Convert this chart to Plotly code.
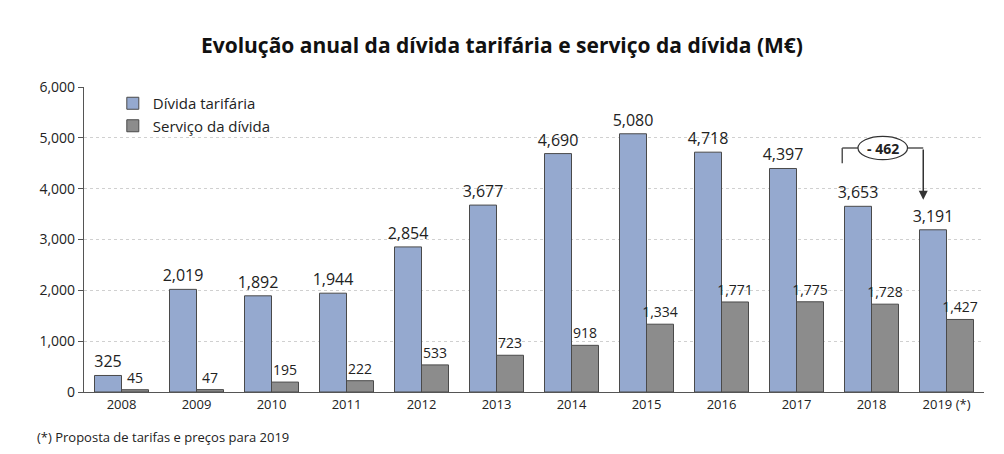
import plotly.graph_objects as go

years = ["2008", "2009", "2010", "2011", "2012", "2013", "2014", "2015", "2016", "2017", "2018", "2019 (*)"]
divida_tarifaria = [325, 2019, 1892, 1944, 2854, 3677, 4690, 5080, 4718, 4397, 3653, 3191]
servico_divida = [45, 47, 195, 222, 533, 723, 918, 1334, 1771, 1775, 1728, 1427]

BLUE = "#95A9CF"
GREY = "#8C8C8C"
EDGE = "#4A4A4A"
FONT = "Open Sans"

fig = go.Figure()
fig.add_trace(go.Bar(
    x=years, y=divida_tarifaria, name="Dívida tarifária",
    marker=dict(color=BLUE, line=dict(color=EDGE, width=1)),
    text=[f"{v:,}" for v in divida_tarifaria], textposition="outside", constraintext="none",
    textfont=dict(size=16, color="#222222", family=FONT), cliponaxis=False,
))
fig.add_trace(go.Bar(
    x=years, y=servico_divida, name="Serviço da dívida",
    marker=dict(color=GREY, line=dict(color=EDGE, width=1)),
    text=[f"{v:,}" for v in servico_divida], textposition="outside", constraintext="none",
    textfont=dict(size=14, color="#222222", family=FONT), cliponaxis=False,
))

# bracket showing the change 2018 -> 2019
i0, i1 = len(years) - 2, len(years) - 1
diff = divida_tarifaria[i1] - divida_tarifaria[i0]
x_left = i0 - 0.39
x_right = i1 - 0.31
x_mid = (x_left + x_right) / 2
y_top = 4800
oval_w, oval_h = 0.33, 230
line = dict(color="#555555", width=1.5)

fig.add_shape(type="line", xref="x", yref="y", x0=x_left, x1=x_left, y0=4500, y1=y_top, line=line)
fig.add_shape(type="line", xref="x", yref="y", x0=x_left, x1=x_mid - oval_w, y0=y_top, y1=y_top, line=line)
fig.add_shape(type="line", xref="x", yref="y", x0=x_mid + oval_w, x1=x_right, y0=y_top, y1=y_top, line=line)
fig.add_shape(type="circle", xref="x", yref="y",
              x0=x_mid - oval_w, x1=x_mid + oval_w, y0=y_top - oval_h, y1=y_top + oval_h,
              line=dict(color="#333333", width=1.2), fillcolor="white")
fig.add_annotation(x=x_mid, y=y_top, xref="x", yref="y", text=f"<b>- {abs(diff)}</b>",
                   showarrow=False, font=dict(size=14, color="#222222", family=FONT))
fig.add_annotation(x=x_right, y=3780, xref="x", yref="y", ax=x_right, ay=y_top,
                   axref="x", ayref="y", text="", showarrow=True,
                   arrowhead=2, arrowsize=1.2, arrowwidth=1.5, arrowcolor="#333333")

fig.add_annotation(x=-0.054, y=-0.148, xref="paper", yref="paper", xanchor="left", yanchor="middle",
                   text="(*) Proposta de tarifas e preços para 2019", showarrow=False,
                   font=dict(size=13, color="#222222", family=FONT))

fig.update_layout(
    width=1004, height=454,
    margin=dict(l=76, r=28, t=79, b=70),
    title=dict(text="<b>Evolução anual da dívida tarifária e serviço da dívida (M€)</b>",
               x=0.492, xanchor="center", y=0.918, yanchor="middle",
               font=dict(size=21, color="#111111", family=FONT)),
    font=dict(family=FONT, color="#222222"),
    plot_bgcolor="white", paper_bgcolor="white",
    barmode="group", bargap=0.28, bargroupgap=0,
    showlegend=True,
    legend=dict(x=0.032, y=1.0, xanchor="left", yanchor="top", bgcolor="rgba(0,0,0,0)",
                font=dict(size=15, family=FONT, color="#222222"), tracegroupgap=2),
)
fig.update_yaxes(range=[0, 6000], dtick=1000, tickformat=",", showline=True, linecolor="#555555",
                 linewidth=1.2, ticks="outside", ticklen=5, tickcolor="#555555",
                 showgrid=True, gridcolor="#D0D0D0", griddash="dot", gridwidth=1,
                 zeroline=False, tickfont=dict(size=14, family=FONT, color="#222222"))
fig.update_xaxes(showline=True, linecolor="#555555", linewidth=1.2, ticks="",
                 showgrid=False, tickfont=dict(size=13, family=FONT, color="#222222"))

fig.write_html("out.html")
